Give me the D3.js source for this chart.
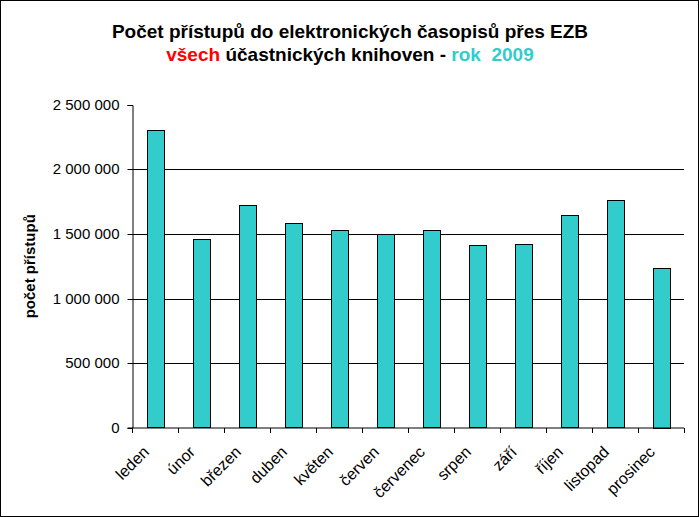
<!DOCTYPE html>
<html>
<head>
<meta charset="utf-8">
<script src="https://cdn.jsdelivr.net/npm/d3@7"></script>
<style>
  body { margin: 0; background: #fff; }
  svg { display: block; font-family: "Liberation Sans", Arial, sans-serif; }
  .xlabels { opacity: 0.999; }
</style>
</head>
<body>
<div class="chart"></div>
<script>
var months = ["leden", "únor", "březen", "duben", "květen", "červen",
  "červenec", "srpen", "září", "říjen", "listopad", "prosinec"];
var accesses = [2305000, 1461000, 1722000, 1583000, 1529000, 1499000,
  1530000, 1412000, 1422000, 1645000, 1761000, 1240000];
var yTicks = [0, 500000, 1000000, 1500000, 2000000, 2500000];

var svgWidth = 699;
var svgHeight = 517;
var margin = { top: 105, right: 15, bottom: 90, left: 132 };
var width = 684 - margin.left;
var height = 427.5 - margin.top;

var svg = d3.select(".chart")
  .append("svg")
  .attr("width", svgWidth)
  .attr("height", svgHeight);

// outer frame
svg.append("rect")
  .attr("x", 0.5).attr("y", 0.5)
  .attr("width", svgWidth - 1).attr("height", svgHeight - 1)
  .attr("fill", "#fff").attr("stroke", "#000");

svg.append("text")
  .attr("x", 350).attr("y", 38)
  .attr("text-anchor", "middle")
  .style("font-weight", "bold").style("font-size", "19px")
  .text("Počet přístupů do elektronických časopisů přes EZB");

var title2 = svg.append("text")
  .attr("x", 350).attr("y", 61)
  .attr("text-anchor", "middle")
  .style("font-weight", "bold").style("font-size", "19px");
title2.append("tspan").attr("fill", "#ff0000").text("všech");
title2.append("tspan").attr("fill", "#000").text(" účastnických knihoven - ");
title2.append("tspan").attr("fill", "#33cccc").text("rok\u00a0 2009");

var chart = svg.append("g")
  .attr("transform", "translate(" + margin.left + "," + margin.top + ")");

var x = d3.scaleBand().domain(months).range([0, width])
  .paddingInner(0.64).paddingOuter(0.32);
var y = d3.scaleLinear().domain([0, 2500000]).range([height, 0]);

var fmt = function(d) {
  return d3.format(",")(d).replace(/,/g, " ");
};

// gridlines
chart.selectAll(".grid")
  .data(yTicks.filter(function(d) { return d > 0 && d < 2500000; }))
  .enter().append("line")
  .attr("x1", 0).attr("x2", width)
  .attr("y1", function(d) { return Math.round(y(d)) + 0.5; })
  .attr("y2", function(d) { return Math.round(y(d)) + 0.5; })
  .attr("stroke", "#000");

chart.selectAll(".bar")
  .data(accesses)
  .enter().append("rect")
  .attr("x", function(d, i) { return Math.round(x(months[i])) + 0.5; })
  .attr("y", function(d) { return Math.round(y(d)) + 0.5; })
  .attr("width", Math.round(x.bandwidth()))
  .attr("height", function(d) { return Math.round(height - y(d)); })
  .attr("fill", "#33cccc")
  .attr("stroke", "#000");

var leftAxis = d3.axisLeft(y).tickValues(yTicks).tickFormat(fmt)
  .tickSizeOuter(0).tickSize(5).tickPadding(8);
var gy = chart.append("g").attr("transform", "translate(0.5,0)").call(leftAxis);
gy.selectAll("text").style("font-size", "15px").attr("fill", "#000")
  .attr("font-family", null);
gy.selectAll("line").attr("stroke", "#000");
gy.select(".domain").attr("stroke", "#000");
gy.selectAll(".tick").attr("transform", function(d) {
  return "translate(0," + (Math.round(y(d)) + 0.5) + ")";
});

var step = x.step();
var gx = chart.append("g").attr("transform", "translate(0," + (height + 0.5) + ")");
gx.append("line").attr("x1", 0).attr("x2", width).attr("stroke", "#000");
gx.selectAll(".xtick")
  .data(d3.range(months.length + 1))
  .enter().append("line")
  .attr("x1", function(i) { return Math.round(i * step) + 0.5; })
  .attr("x2", function(i) { return Math.round(i * step) + 0.5; })
  .attr("y1", 0).attr("y2", 5)
  .attr("stroke", "#000");

gx.append("g").attr("class", "xlabels")
  .selectAll("text")
  .data(months)
  .enter().append("text")
  .attr("text-anchor", "end")
  .attr("fill", "#000")
  .attr("transform", function(d) {
    return "translate(" + (x(d) + x.bandwidth() / 2 - 5) + ",25) rotate(-45)";
  })
  .style("font-size", "16px")
  .text(function(d) { return d; });

svg.append("text")
  .attr("transform", "translate(35," + (margin.top + height / 2) + ") rotate(-90)")
  .attr("text-anchor", "middle")
  .attr("fill", "#000")
  .style("font-weight", "bold").style("font-size", "15px")
  .text("počet přístupů");
</script>
</body>
</html>
